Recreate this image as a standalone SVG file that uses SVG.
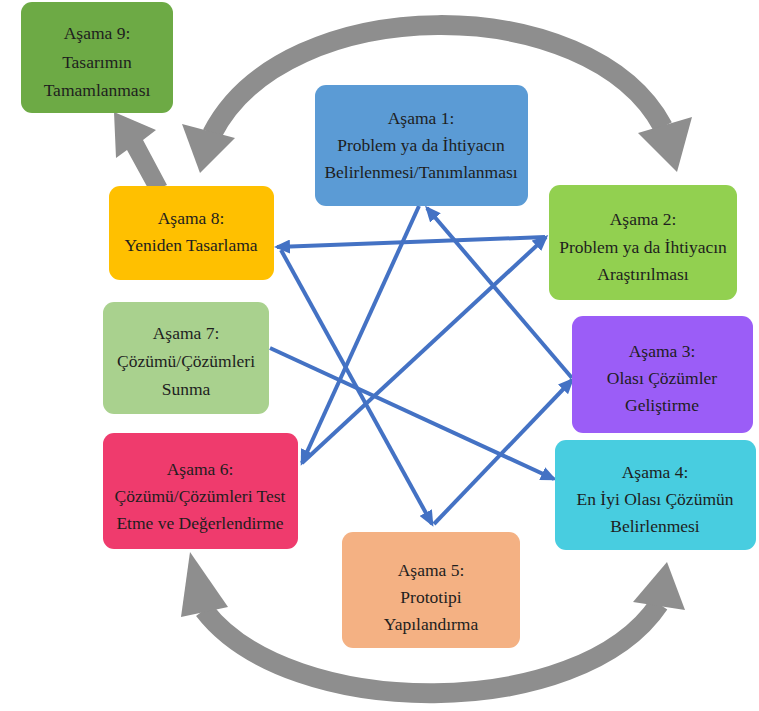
<svg xmlns="http://www.w3.org/2000/svg" width="759" height="711" viewBox="0 0 759 711">
<style>
.box{stroke:none}
.t{font-family:'Liberation Serif','Tinos','Times New Roman','DejaVu Serif',serif;font-size:17.5px;fill:#1e1e1e;text-anchor:middle}
.blue{stroke:#4472C4;stroke-width:4;fill:none;marker-end:url(#bh)}
.garc{stroke:#8E8E8E;stroke-width:20;fill:none}
.ghead{fill:#8E8E8E}
</style>
<defs>
<marker id="bh" viewBox="0 0 16 14" refX="13" refY="7" markerWidth="16" markerHeight="14" markerUnits="userSpaceOnUse" orient="auto">
<path d="M0,0 L16,7 L0,14 z" fill="#4472C4"/>
</marker>
</defs>
<rect width="759" height="711" fill="#ffffff"/>
<g id="cycle-arrows">
<path class="garc" d="M212 134 C 285 -10, 590 -10, 663 127"/>
<polygon class="ghead" points="182,124 235,138 200,173"/>
<polygon class="ghead" points="638,133 692,117 677,172"/>
<path class="garc" d="M204 610 C 290 722, 580 722, 659 604"/>
<polygon class="ghead" points="181,617 228,607 190,552"/>
<polygon class="ghead" points="633,602 685,610 667,562"/>
<polygon class="ghead" points="114,112 156,130 143,140 167,185 150,192 127,150 116,158"/>
</g>
<g id="connectors">
<line class="blue" x1="419" y1="206" x2="302" y2="463"/>
<line class="blue" x1="302" y1="463" x2="546" y2="237"/>
<line class="blue" x1="545" y1="237" x2="277" y2="247"/>
<line class="blue" x1="281" y1="250" x2="432" y2="524"/>
<line class="blue" x1="434" y1="524" x2="572" y2="380"/>
<line class="blue" x1="572" y1="378" x2="427" y2="208"/>
<line class="blue" x1="270" y1="348" x2="554" y2="479"/>
</g>
<g id="asama9">
<rect class="box" x="21" y="2" width="152" height="111" rx="11" fill="#6DAA45"/>
<text class="t" x="97" y="39" font-family="Liberation Serif, serif">Aşama 9:</text>
<text class="t" x="97" y="68" font-family="Liberation Serif, serif">Tasarımın</text>
<text class="t" x="97" y="96" font-family="Liberation Serif, serif">Tamamlanması</text>
</g>
<g id="asama1">
<rect class="box" x="315" y="85" width="213" height="121" rx="11" fill="#5B9BD5"/>
<text class="t" x="421" y="124">Aşama 1:</text>
<text class="t" x="421" y="151">Problem ya da İhtiyacın</text>
<text class="t" x="421" y="178">Belirlenmesi/Tanımlanması</text>
</g>
<g id="asama2">
<rect class="box" x="549" y="185" width="188" height="115" rx="11" fill="#92D050"/>
<text class="t" x="643" y="225">Aşama 2:</text>
<text class="t" x="643" y="253">Problem ya da İhtiyacın</text>
<text class="t" x="643" y="280">Araştırılması</text>
</g>
<g id="asama8">
<rect class="box" x="109" y="186" width="165" height="94" rx="11" fill="#FFC000"/>
<text class="t" x="191" y="224">Aşama 8:</text>
<text class="t" x="191" y="251">Yeniden Tasarlama</text>
</g>
<g id="asama7">
<rect class="box" x="103" y="302" width="166" height="112" rx="11" fill="#A9D18E"/>
<text class="t" x="186" y="339">Aşama 7:</text>
<text class="t" x="186" y="367">Çözümü/Çözümleri</text>
<text class="t" x="186" y="395">Sunma</text>
</g>
<g id="asama3">
<rect class="box" x="572" y="316" width="181" height="117" rx="11" fill="#9B5DF7"/>
<text class="t" x="662" y="357">Aşama 3:</text>
<text class="t" x="662" y="384">Olası Çözümler</text>
<text class="t" x="662" y="411">Geliştirme</text>
</g>
<g id="asama6">
<rect class="box" x="103" y="433" width="195" height="116" rx="11" fill="#EF3B6D"/>
<text class="t" x="200" y="475">Aşama 6:</text>
<text class="t" x="200" y="502">Çözümü/Çözümleri Test</text>
<text class="t" x="200" y="529">Etme ve Değerlendirme</text>
</g>
<g id="asama4">
<rect class="box" x="555" y="440" width="201" height="110" rx="11" fill="#48CDE0"/>
<text class="t" x="655" y="478">Aşama 4:</text>
<text class="t" x="655" y="505">En İyi Olası Çözümün</text>
<text class="t" x="655" y="532">Belirlenmesi</text>
</g>
<g id="asama5">
<rect class="box" x="342" y="532" width="178" height="116" rx="11" fill="#F4B183"/>
<text class="t" x="431" y="576">Aşama 5:</text>
<text class="t" x="431" y="603">Prototipi</text>
<text class="t" x="431" y="630">Yapılandırma</text>
</g>
</svg>
